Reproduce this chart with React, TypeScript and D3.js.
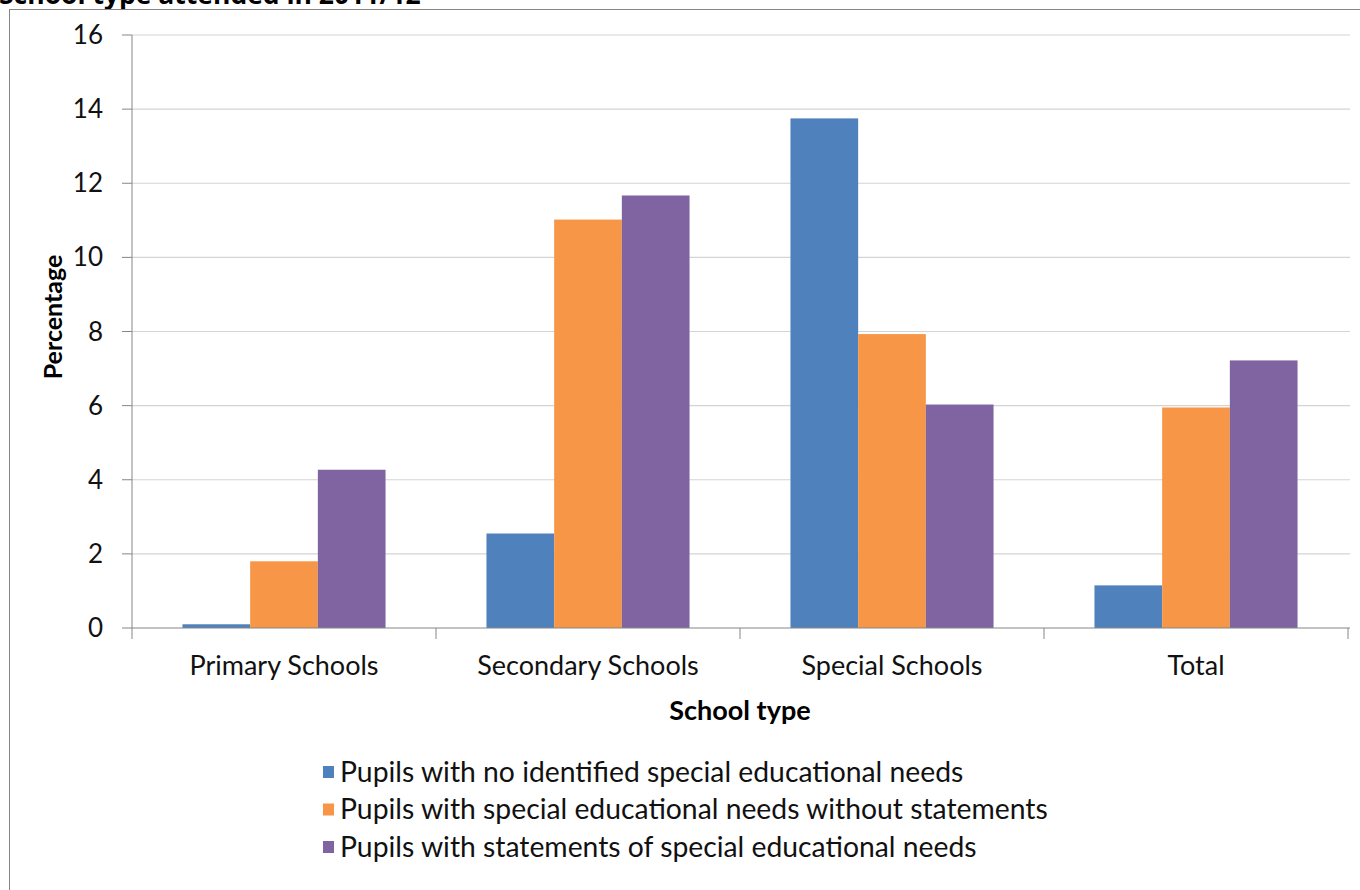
import React from "react";
import * as d3 from "d3";

const categories = ["Primary Schools", "Secondary Schools", "Special Schools", "Total"];
const seriesNames = [
  "Pupils with no identified special educational needs",
  "Pupils with special educational needs without statements",
  "Pupils with statements of special educational needs",
];
const noSen = [0.1, 2.55, 13.75, 1.15];
const senNoStatement = [1.8, 11.02, 7.93, 5.95];
const senStatement = [4.27, 11.67, 6.03, 7.22];
const seriesValues = [noSen, senNoStatement, senStatement];
const colors = ["#4F81BD", "#F79646", "#8064A2"];
const yTicks = [0, 2, 4, 6, 8, 10, 12, 14, 16];

const W = 1360;
const H = 890;
const FONT = "Lato, 'Open Sans', sans-serif";

export default function App() {
  const x0 = d3.scaleBand<string>().domain(categories).range([132, 1348]).paddingInner(0).paddingOuter(0);
  const step = x0.bandwidth();
  const x1 = d3
    .scaleBand<number>()
    .domain([0, 1, 2])
    .range([step * 0.166, step * 0.834])
    .padding(0);
  const y = d3.scaleLinear().domain([0, 16]).range([628, 35]);

  return (
    <svg
      width={W}
      height={H}
      style={{ position: "absolute", left: 0, top: 0, background: "#fff", fontFamily: FONT }}
    >
      <rect x={0} y={0} width={W} height={H} fill="#fff" />
      {/* title (partly cut off) */}
      <text x={-1} y={4} fontSize={26.5} fontWeight="bold" fill="#000" fontFamily="'Open Sans', sans-serif">
        School type attended in 2011/12
      </text>
      {/* chart frame */}
      <rect x={9.5} y={9.5} width={W + 10} height={H + 10} fill="none" stroke="#868686" strokeWidth={1} />

      {/* gridlines */}
      {yTicks.map((t) =>
        t === 0 ? null : (
          <line key={"g" + t} x1={132} x2={1350} y1={y(t)} y2={y(t)} stroke="#d4d4d4" strokeWidth={1.2} />
        )
      )}
      {/* y ticks and labels */}
      {yTicks.map((t) => (
        <g key={"yt" + t}>
          <line x1={122} x2={132} y1={y(t)} y2={y(t)} stroke="#868686" />
          <text x={103} y={y(t)} dy="0.35em" textAnchor="end" fontSize={26} fill="#111">
            {t}
          </text>
        </g>
      ))}

      {/* bars */}
      {categories.map((c, ci) => (
        <g key={c} transform={`translate(${x0(c)},0)`}>
          {seriesValues.map((vals, si) => (
            <rect
              key={si}
              x={x1(si)}
              y={y(vals[ci])}
              width={x1.bandwidth()}
              height={y(0) - y(vals[ci])}
              fill={colors[si]}
            />
          ))}
        </g>
      ))}

      {/* axes lines */}
      <line x1={132} x2={132} y1={y(16)} y2={y(0)} stroke="#868686" />
      <line x1={132} x2={1350} y1={y(0)} y2={y(0)} stroke="#868686" />
      {[...categories.map((c) => x0(c) as number), 1348].map((xx, i) => (
        <line key={"xt" + i} x1={xx} x2={xx} y1={y(0)} y2={y(0) + 11} stroke="#868686" />
      ))}
      {categories.map((c) => (
        <text
          key={"xl" + c}
          x={(x0(c) as number) + step / 2}
          y={675}
          textAnchor="middle"
          fontSize={27}
          fill="#111"
        >
          {c}
        </text>
      ))}

      {/* axis titles */}
      <text x={740} y={720} textAnchor="middle" fontSize={27} fontWeight="bold" fill="#000">
        School type
      </text>
      <text
        transform={`translate(62,${317}) rotate(-90)`}
        textAnchor="middle"
        fontSize={25}
        fontWeight="bold"
        fill="#000"
      >
        Percentage
      </text>

      {/* legend */}
      {seriesNames.map((n, i) => (
        <g key={"lg" + i} transform={`translate(323,${772 + i * 37.5})`}>
          <rect x={0} y={-6} width={11} height={12} fill={colors[i]} />
          <text x={17} y={0} dy="0.35em" fontSize={28.3} fill="#111">
            {n}
          </text>
        </g>
      ))}
    </svg>
  );
}
